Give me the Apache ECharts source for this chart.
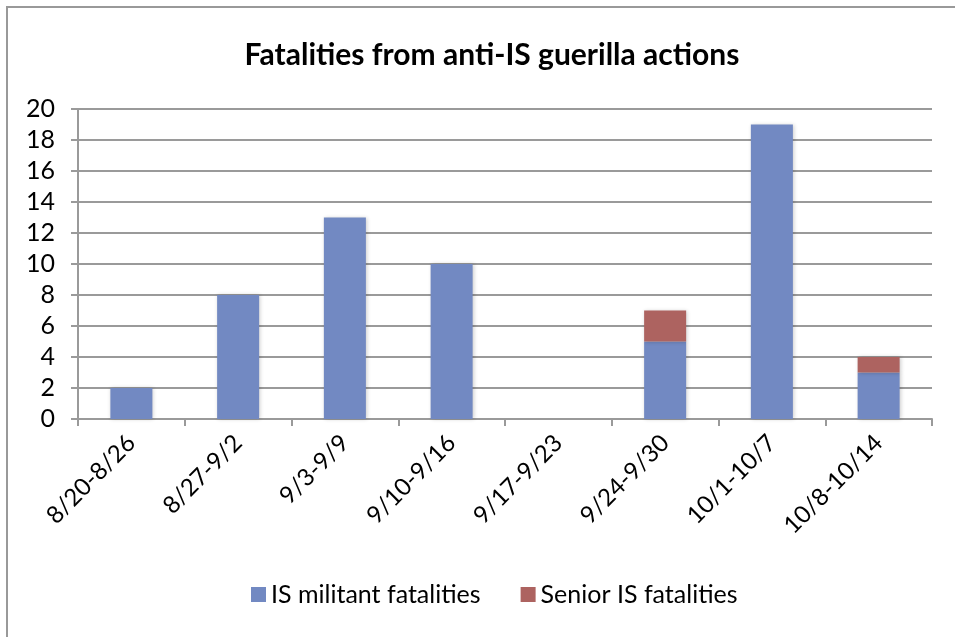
<!DOCTYPE html>
<html>
<head>
<meta charset="utf-8">
<script src="https://cdn.jsdelivr.net/npm/echarts@6/dist/echarts.min.js"></script>
<style>
  html, body { margin: 0; padding: 0; background: #fff; }
  #chart { width: 955px; height: 637px; }
</style>
</head>
<body>
<div id="chart"></div>
<script>
var weeks = ['8/20-8/26', '8/27-9/2', '9/3-9/9', '9/10-9/16', '9/17-9/23', '9/24-9/30', '10/1-10/7', '10/8-10/14'];
var militant = [2, 8, 13, 10, 0, 5, 19, 3];
var senior = [0, 0, 0, 0, 0, 2, 0, 1];
var seriesNames = ['IS militant fatalities', 'Senior IS fatalities'];

var fontFamily = 'Lato, "Open Sans", sans-serif';
var gridColor = '#9a9a9a';

// empty stack segments are left out so they draw no sliver
function noZero(v) { return v === 0 ? null : v; }

var chart = echarts.init(document.getElementById('chart'));
var option = {
    backgroundColor: '#fff',
    animation: false,
    title: {
        text: 'Fatalities from anti-IS guerilla actions',
        left: 487,
        textAlign: 'center',
        top: 35,
        textStyle: { fontFamily: fontFamily, fontSize: 30, fontWeight: 'bold', color: '#000' }
    },
    graphic: [{
        type: 'rect',
        shape: { x: 7, y: 7, width: 1200, height: 900 },
        style: { fill: 'none', stroke: '#999', lineWidth: 2 },
        silent: true
    }],
    legend: {
        bottom: 25,
        left: 246,
        itemWidth: 15,
        itemHeight: 15,
        itemGap: 40,
        icon: 'rect',
        textStyle: { fontFamily: fontFamily, fontSize: 25, color: '#000' },
        data: seriesNames
    },
    grid: { left: 78, right: 23, top: 109, height: 310 },
    xAxis: {
        type: 'category',
        data: weeks,
        axisLine: { lineStyle: { color: gridColor, width: 2 } },
        axisTick: { show: true, length: 7, lineStyle: { color: gridColor, width: 2 } },
        axisLabel: { rotate: 45, fontFamily: fontFamily, fontSize: 24, color: '#000', margin: 20 }
    },
    yAxis: {
        type: 'value',
        min: 0,
        max: 20,
        interval: 2,
        axisLine: { show: true, lineStyle: { color: gridColor, width: 2 } },
        axisTick: { show: true, length: 7, lineStyle: { color: gridColor, width: 2 } },
        splitLine: { lineStyle: { color: gridColor, width: 2 } },
        axisLabel: { fontFamily: fontFamily, fontSize: 25, color: '#000', margin: 23 }
    },
    series: [
        {
            name: seriesNames[0],
            type: 'bar',
            stack: 'total',
            barWidth: 42,
            itemStyle: { color: '#7289c2', shadowColor: 'rgba(0,0,0,0.2)', shadowBlur: 4, shadowOffsetX: 1, shadowOffsetY: 0 },
            data: militant.map(noZero)
        },
        {
            name: seriesNames[1],
            type: 'bar',
            stack: 'total',
            barWidth: 42,
            itemStyle: { color: '#ad6360', shadowColor: 'rgba(0,0,0,0.2)', shadowBlur: 4, shadowOffsetX: 1, shadowOffsetY: 0 },
            data: senior.map(noZero)
        }
    ]
};
chart.setOption(option);
</script>
</body>
</html>
